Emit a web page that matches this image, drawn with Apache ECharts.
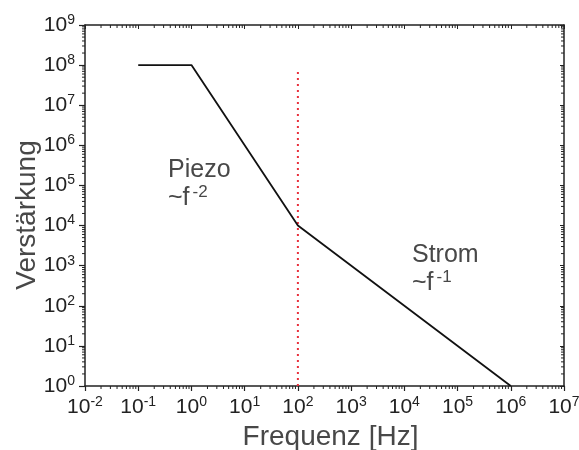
<!DOCTYPE html>
<html>
<head>
<meta charset="utf-8">
<script src="https://cdn.jsdelivr.net/npm/echarts@6/dist/echarts.min.js"></script>
<style>html,body{margin:0;padding:0;background:#fff}#c{width:579px;height:450px}</style>
</head>
<body>
<div id="c"></div>
<script>
// Data
var responseX = [0.1, 1, 100, 1e6];
var responseY = [1e8, 1e8, 1e4, 1];
var markerX = [100, 100];
var markerY = [1, 7.5e7];
var xMin = 0.01, xMax = 1e7;
var yMin = 1, yMax = 1e9;
var xMinorMultipliers = [2, 3, 4, 5, 6, 7, 8, 9];
var annotations = [
  { name: 'Piezo', exp: '-2' },
  { name: 'Strom', exp: '-1' }
];
var xTitle = 'Frequenz [Hz]';
var yTitle = 'Verstärkung';

function pairs(xs, ys) { return xs.map(function (x, i) { return [x, ys[i]]; }); }
function minorVals(lo, hi) {
  var out = [];
  for (var d = Math.round(Math.log10(lo)); d < Math.round(Math.log10(hi)); d++) {
    xMinorMultipliers.forEach(function (m) { out.push(m * Math.pow(10, d)); });
  }
  return out;
}
var xMinor = minorVals(xMin, xMax);
var yMinor = minorVals(yMin, yMax);

var FONT = 'Liberation Sans, Arial';
function expLabel(v) {
  var e = Math.round(Math.log10(v));
  return '{b|10}{s|' + e + '}';
}
var labelRich = {
  b: { fontSize: 21, fontFamily: FONT, color: '#222' },
  s: { fontSize: 14, fontFamily: FONT, color: '#222', verticalAlign: 'top', padding: [0, 0, 10, 0] }
};

var chart = echarts.init(document.getElementById('c'));

function tickRenderer(isX) {
  return function (params, api) {
    var cs = params.coordSys;
    var v = api.value(isX ? 0 : 1);
    var p = api.coord(isX ? [v, yMin] : [xMin, v]);
    var st = { stroke: '#222', lineWidth: 1 };
    if (isX) {
      return { type: 'group', children: [
        { type: 'line', shape: { x1: p[0], y1: cs.y + cs.height, x2: p[0], y2: cs.y + cs.height + 3 }, style: st },
        { type: 'line', shape: { x1: p[0], y1: cs.y, x2: p[0], y2: cs.y + 3 }, style: st }
      ]};
    } else {
      return { type: 'group', children: [
        { type: 'line', shape: { x1: cs.x, y1: p[1], x2: cs.x - 3, y2: p[1] }, style: st },
        { type: 'line', shape: { x1: cs.x + cs.width, y1: p[1], x2: cs.x + cs.width - 3, y2: p[1] }, style: st }
      ]};
    }
  };
}

var annRich = {
  t: { fontSize: 25, fontFamily: FONT, fill: '#484848' },
  s: { fontSize: 17, fontFamily: FONT, fill: '#484848', verticalAlign: 'top', padding: [0, 0, 12, 3] }
};

var option = {
  backgroundColor: '#fff',
  animation: false,
  grid: { left: 85, right: 15, top: 25, bottom: 64, show: false, outerBoundsMode: 'none', containLabel: false },
  xAxis: [{
    type: 'log', logBase: 10, min: xMin, max: xMax,
    name: xTitle, nameLocation: 'middle', nameGap: 37,
    nameTextStyle: { fontSize: 28, fontFamily: FONT, color: '#484848', padding: [0, 0, 0, 12] },
    axisLine: { show: true, lineStyle: { color: '#222', width: 1.5 } },
    axisTick: { show: true, inside: false, length: 5, lineStyle: { color: '#222', width: 1.2 } },
    axisLabel: { formatter: expLabel, rich: labelRich, margin: 9 },
    splitLine: { show: false }
  }, {
    type: 'log', logBase: 10, min: xMin, max: xMax, position: 'top',
    axisLine: { show: true, onZero: false, lineStyle: { color: '#222', width: 1.5 } },
    axisTick: { show: true, inside: true, length: 4, lineStyle: { color: '#222', width: 1 } },
    axisLabel: { show: false }, splitLine: { show: false }
  }],
  yAxis: [{
    type: 'log', logBase: 10, min: yMin, max: yMax,
    axisLine: { show: true, lineStyle: { color: '#222', width: 1.5 } },
    axisTick: { show: true, inside: false, length: 6, lineStyle: { color: '#222', width: 1.2 } },
    axisLabel: { formatter: expLabel, rich: labelRich, margin: 10 },
    splitLine: { show: false }
  }, {
    type: 'log', logBase: 10, min: yMin, max: yMax, position: 'right',
    axisLine: { show: true, onZero: false, lineStyle: { color: '#222', width: 1.5 } },
    axisTick: { show: true, inside: true, length: 4, lineStyle: { color: '#222', width: 1 } },
    axisLabel: { show: false }, splitLine: { show: false }
  }],
  series: [{
    type: 'line', data: pairs(responseX, responseY), symbol: 'none',
    lineStyle: { color: '#111', width: 1.8 }, z: 3
  }, {
    type: 'line', data: pairs(markerX, markerY), symbol: 'none',
    lineStyle: { color: '#e8303c', width: 2, type: [2, 4] }, z: 2
  }, {
    type: 'custom', renderItem: tickRenderer(true), silent: true,
    data: xMinor.map(function (v) { return [v, yMin]; }), clip: false, z: 4
  }, {
    type: 'custom', renderItem: tickRenderer(false), silent: true,
    data: yMinor.map(function (v) { return [xMin, v]; }), clip: false, z: 4
  }],
  graphic: [
    { type: 'text', x: 27, y: 215, rotation: Math.PI / 2, style: {
      text: yTitle, font: '28px ' + FONT, fill: '#484848', align: 'center', verticalAlign: 'middle'
    } },
    { type: 'text', left: 168, top: 156, style: {
      text: '{t|' + annotations[0].name + '}\n{t|~f}{s|' + annotations[0].exp + '}',
      lineHeight: 28, rich: annRich
    } },
    { type: 'text', left: 412, top: 241, style: {
      text: '{t|' + annotations[1].name + '}\n{t|~f}{s|' + annotations[1].exp + '}',
      lineHeight: 28, rich: annRich
    } }
  ]
};
chart.setOption(option);
</script>
</body>
</html>
